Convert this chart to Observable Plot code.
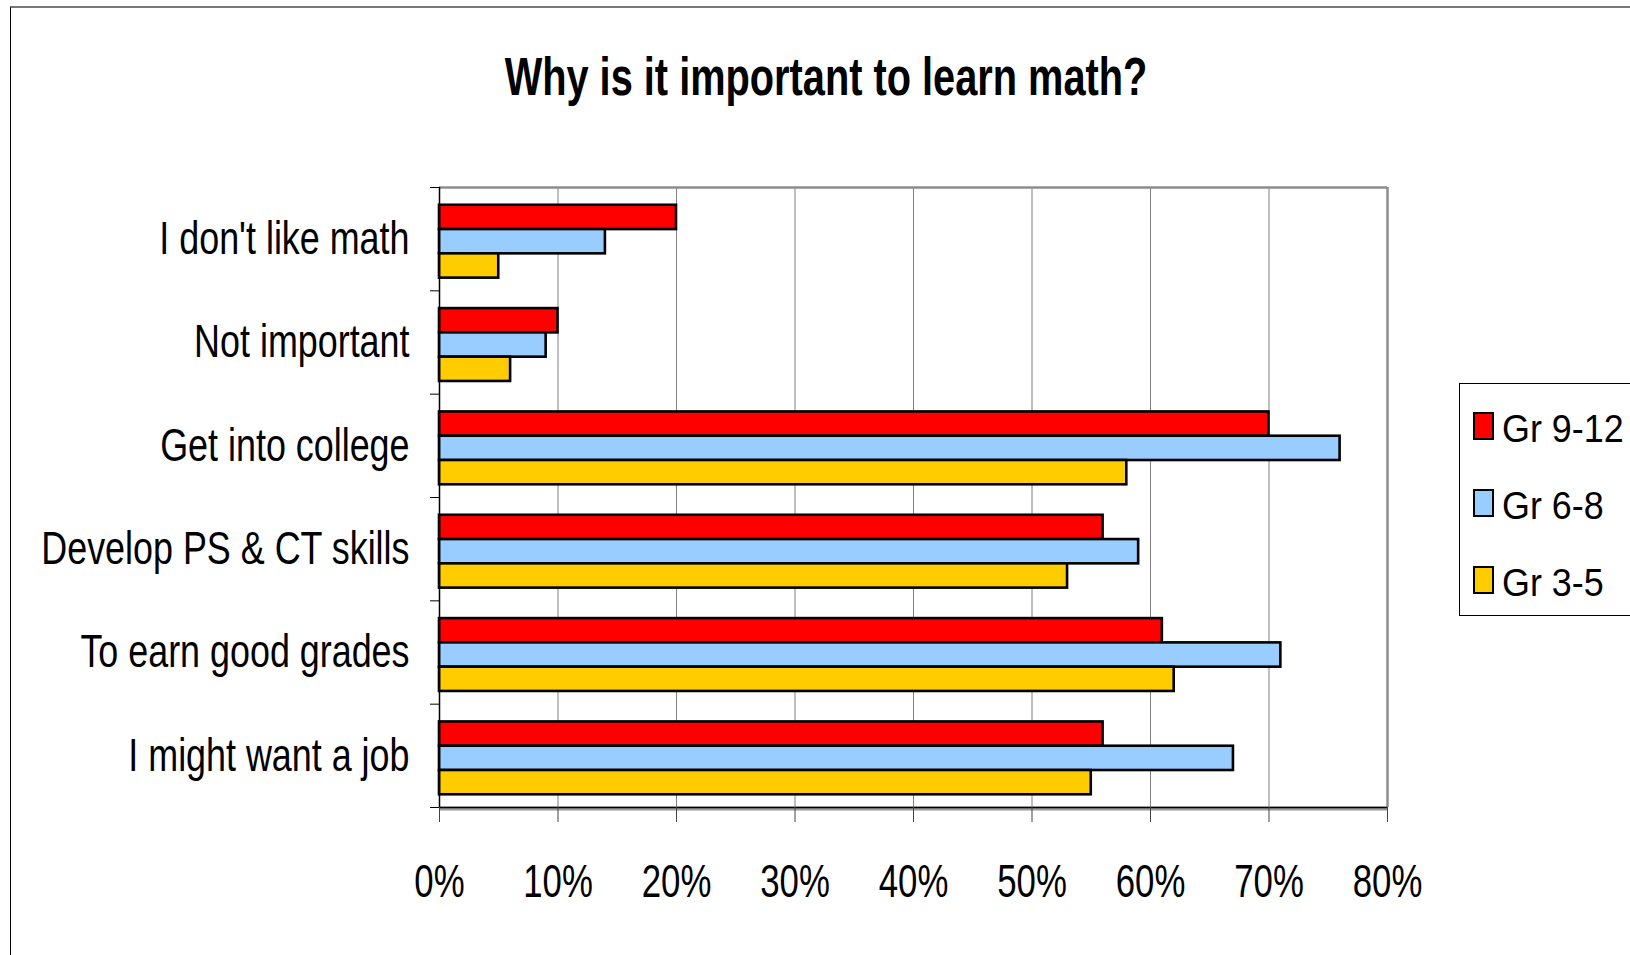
<!DOCTYPE html>
<html>
<head>
<meta charset="utf-8">
<script src="https://cdn.jsdelivr.net/npm/d3@7"></script>
<script src="https://cdn.jsdelivr.net/npm/@observablehq/plot@0.6"></script>
<style>
  html, body { margin: 0; padding: 0; background: #fff; }
  #page { position: relative; width: 1630px; height: 955px; overflow: hidden; font-family: "Liberation Sans", Arial, sans-serif; }
  #border { position: absolute; left: 10px; top: 6px; width: 1640px; height: 960px; border-left: 1px solid #000; border-top: 2px solid #777; }
  #chart { position: absolute; left: 0; top: 0; }
  #title { position: absolute; left: 825.5px; top: 50px; font-size: 53px; line-height: 1; font-weight: bold; white-space: nowrap; transform: translateX(-50%) scaleX(0.75); transform-origin: center; }
  #legend { position: absolute; left: 1459px; top: 383px; width: 220px; height: 231px; border: 1px solid #000; }
  .lg-sw { position: absolute; width: 17px; height: 24px; border: 2px solid #000; }
  .lg-tx { position: absolute; font-size: 39px; line-height: 1; white-space: nowrap; transform: scaleX(0.92); transform-origin: left center; }
</style>
</head>
<body>
<div id="page">
  <div id="border"></div>
  <div id="chart"></div>
  <div id="title">Why is it important to learn math?</div>
  <div id="legend"></div>
</div>
<script>
// ---- data ----
const categories = ["I don't like math", "Not important", "Get into college", "Develop PS & CT skills", "To earn good grades", "I might want a job"];
const seriesNames = ["Gr 9-12", "Gr 6-8", "Gr 3-5"];
const gr9to12 = [20, 10, 70, 56, 61, 56];
const gr6to8 = [14, 9, 76, 59, 71, 67];
const gr3to5 = [5, 6, 58, 53, 62, 55];
const xTickValues = [0, 10, 20, 30, 40, 50, 60, 70, 80];
const seriesColors = ["#ff0000", "#99ccff", "#ffcc00"];

const seriesValues = [gr9to12, gr6to8, gr3to5];
const groupStart = 0.172, barH = 0.235;
const rows = categories.flatMap((c, i) => seriesValues.map((arr, s) => ({
  category: c, series: seriesNames[s], value: arr[i],
  y1: i + groupStart + s * barH, y2: i + groupStart + (s + 1) * barH
})));
const boundaryTicks = d3.range(categories.length + 1);
const centerTicks = categories.map((c, i) => i + 0.5);

const svg = Plot.plot({
  width: 1630, height: 955,
  marginLeft: 439, marginRight: 243, marginTop: 187, marginBottom: 148,
  style: { fontFamily: "'Liberation Sans', Arial, sans-serif", background: "transparent", color: "#000" },
  x: { domain: [0, 80], axis: null, label: null },
  y: { domain: [0, categories.length], reverse: true, axis: null, label: null },
  color: { domain: seriesNames, range: seriesColors },
  marks: [
    Plot.gridX(xTickValues.slice(1, -1), { stroke: "#808080", strokeOpacity: 1, strokeWidth: 1 }),
    Plot.ruleY([0], { stroke: "#8c8c8c", strokeWidth: 2.5 }),
    Plot.ruleX([80], { stroke: "#8c8c8c", strokeWidth: 2.5 }),
    Plot.rect(rows, { x1: d => 0, x2: "value", y1: "y1", y2: "y2", fill: "series", stroke: "#000", strokeWidth: 2.6 }),
    Plot.ruleY([categories.length], { stroke: "#999", strokeWidth: 4, dy: 1 }),
    Plot.ruleY([categories.length], { stroke: "#000", strokeWidth: 1.5 }),
    Plot.ruleX([0], { stroke: "#000", strokeWidth: 1.5 }),
    Plot.axisX({ ticks: xTickValues, tickSize: 15, tickPadding: 41, fontSize: 47, stroke: "#444", tickFormat: d => d + "%", label: null }),
    Plot.axisY({ ticks: boundaryTicks, tickSize: 9, tickFormat: () => "", stroke: "#000", label: null }),
    Plot.axisY({ ticks: centerTicks, tickSize: 0, tickPadding: 30, fontSize: 46, tickFormat: v => categories[Math.floor(v)], label: null })
  ]
});
document.getElementById("chart").appendChild(svg);

// condense the axis text horizontally (narrow face, as in the original)
function condense(selector, k) {
  svg.querySelectorAll(selector).forEach(t => {
    const len = t.getComputedTextLength();
    if (len > 0) {
      t.setAttribute("textLength", (len * k).toFixed(1));
      t.setAttribute("lengthAdjust", "spacingAndGlyphs");
    }
  });
}
condense('g[aria-label="x-axis tick label"] text', 0.74);
condense('g[aria-label="y-axis tick label"] text', 0.78);

// legend
const page = document.getElementById("page");
seriesNames.forEach((name, s) => {
  const sw = document.createElement("div");
  sw.className = "lg-sw";
  sw.style.left = "1473px";
  sw.style.top = (412 + s * 77) + "px";
  sw.style.background = seriesColors[s];
  page.appendChild(sw);
  const tx = document.createElement("div");
  tx.className = "lg-tx";
  tx.style.left = "1502px";
  tx.style.top = (409 + s * 77) + "px";
  tx.textContent = name;
  page.appendChild(tx);
});
</script>
</body>
</html>
